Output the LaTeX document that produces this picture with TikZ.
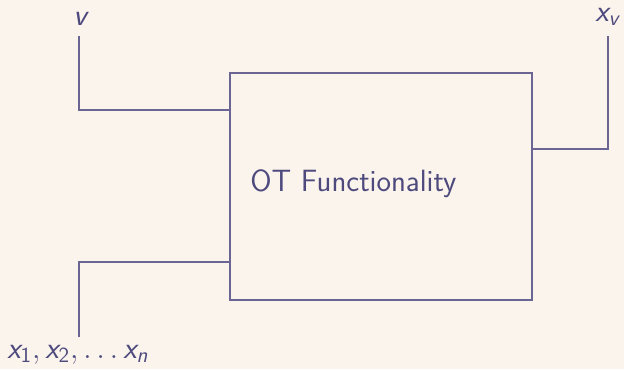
\documentclass[tikz,border=0pt]{standalone}
\usepackage{amsmath}
\definecolor{bgcream}{HTML}{FAF4EC}
\definecolor{inkpurple}{HTML}{4F4A7E}
\definecolor{wirepurple}{HTML}{6A6592}
\newcommand{\svar}[1]{\text{\itshape #1}}
\tikzset{
  wire/.style={draw=wirepurple, line width=0.6pt},
  funcbox/.style={draw=wirepurple, line width=0.6pt, minimum width=302*0.02cm, minimum height=227*0.02cm, inner sep=0pt},
  lbl/.style={text=inkpurple, inner sep=0pt}
}
\begin{document}
\begin{tikzpicture}[x=0.02cm, y=-0.02cm, font=\sffamily\fontsize{17.5}{21}\selectfont]
  \fill[bgcream] (0,0) rectangle (624,369);
  \useasboundingbox (0,0) rectangle (624,369);

  \node[funcbox] (ot) at (381,186.5) {};
  \node[lbl, anchor=west] (otname) at (250,184) {OT Functionality};

  \node[lbl, anchor=base] (vlab) at (80,25) {$\svar{v}$};
  \node[lbl, anchor=base west] (xvlab) at (595,21) {$\svar{x}_{\svar{v}}$};
  \node[lbl, anchor=base west] (xlab) at (7,358) {$\svar{x}_{\text{1}}, \svar{x}_{\text{2}}, \ldots \svar{x}_{\svar{n}}$};

  % wire ends
  \coordinate (vtop) at (79,36);
  \coordinate (vin) at (230,110);
  \coordinate (xin) at (230,262);
  \coordinate (xbot) at (79,337);
  \coordinate (outp) at (532,149);
  \coordinate (xvtop) at (608,36);

  \draw[wire] (vtop) |- (vin);
  \draw[wire] (xbot) |- (xin);
  \draw[wire] (outp) -| (xvtop);
\end{tikzpicture}
\end{document}
